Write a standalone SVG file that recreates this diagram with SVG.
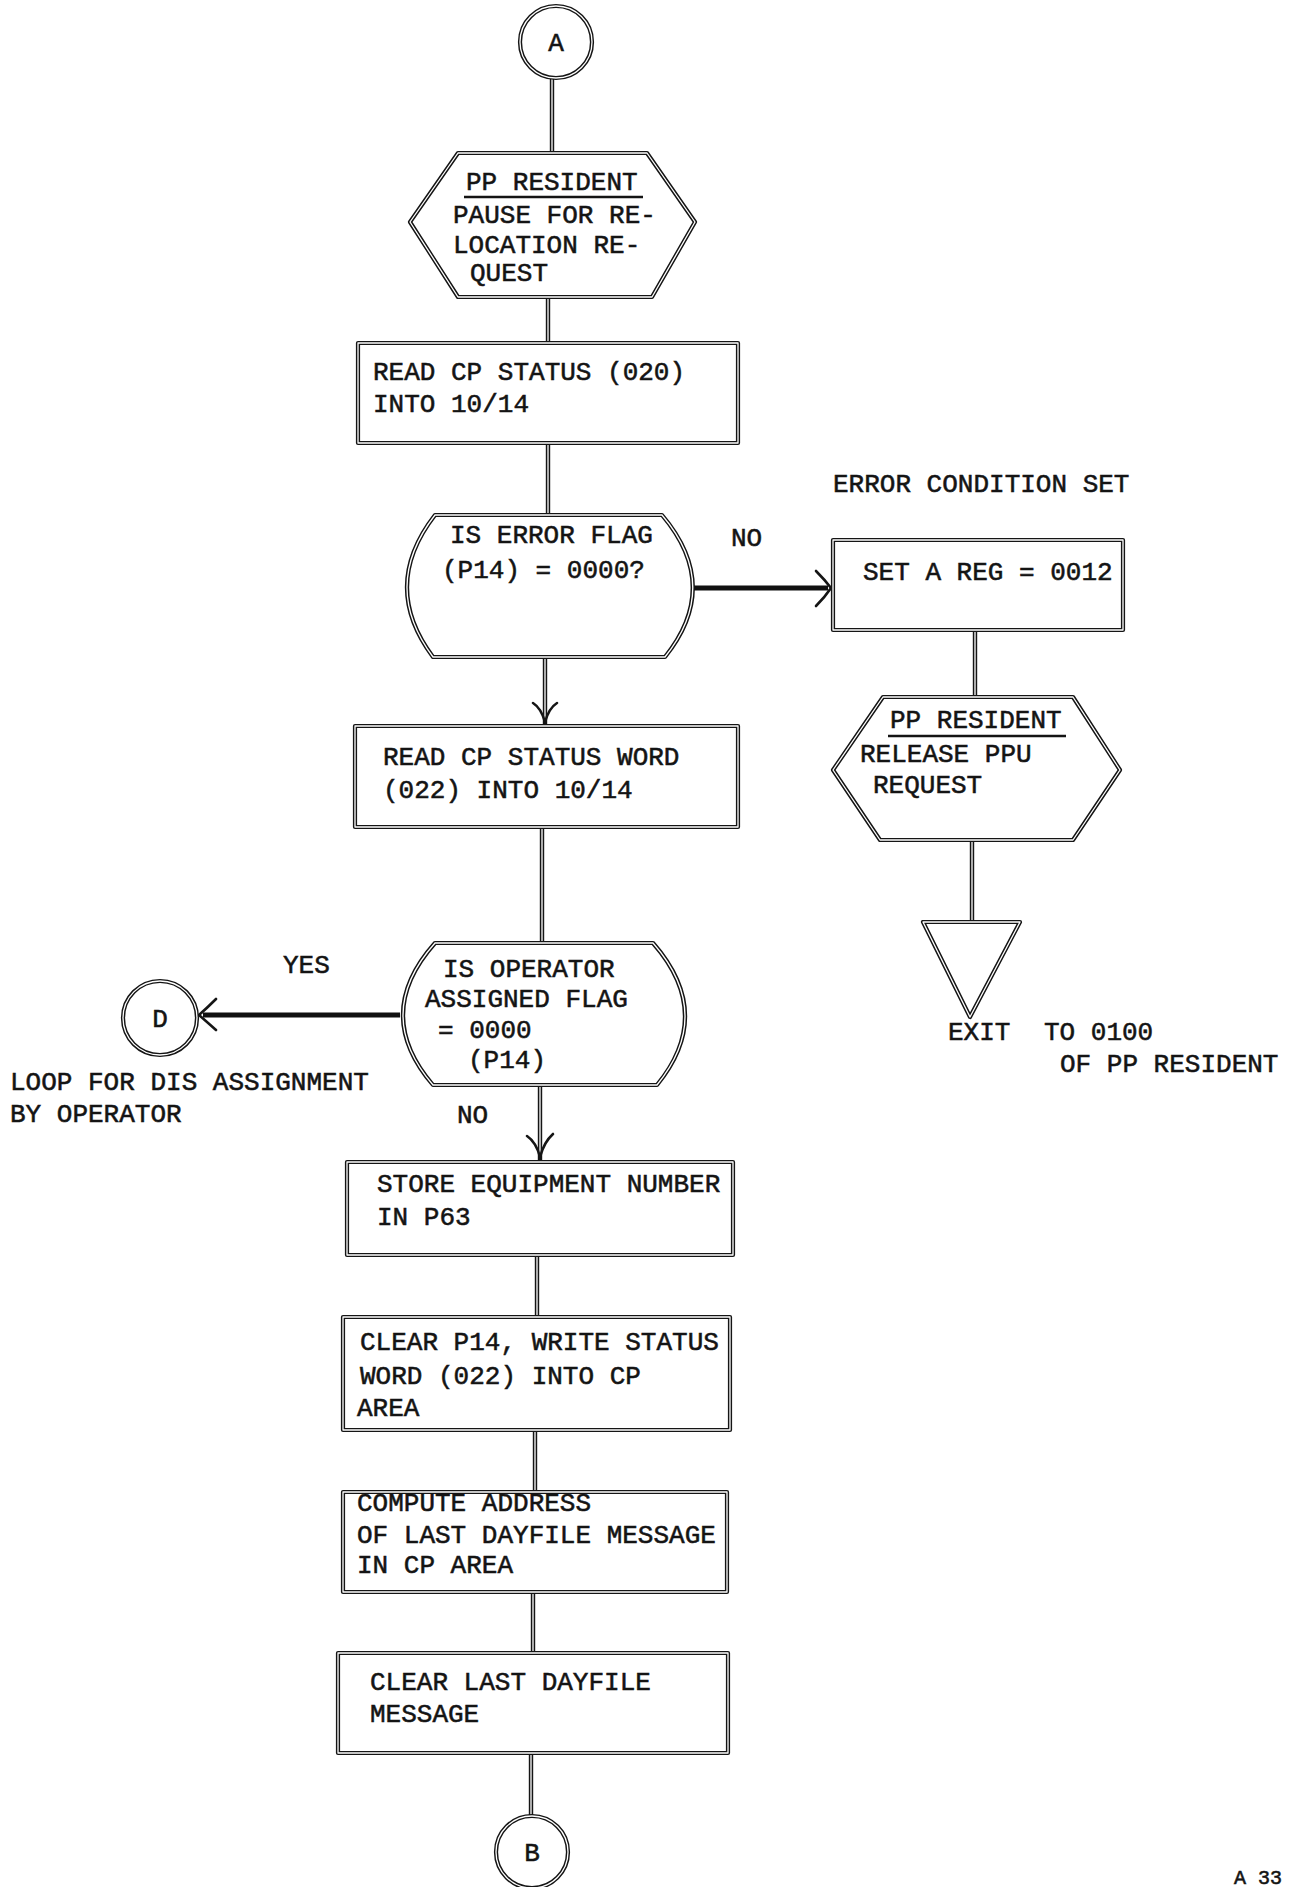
<svg xmlns="http://www.w3.org/2000/svg" xmlns:xlink="http://www.w3.org/1999/xlink" width="1300" height="1887" viewBox="0 0 1300 1887">
<style>
.bg{fill:#ffffff}
.sh{fill:none;stroke:#151515;stroke-width:4.2;stroke-linejoin:round}
.shi{fill:none;stroke:#ffffff;stroke-width:1.3;stroke-linejoin:round}
.c{fill:none;stroke:#151515;stroke-width:4.4}
.ci{fill:none;stroke:#ffffff;stroke-width:1.3}
.h{fill:none;stroke:#111111;stroke-width:5}
.ah{fill:none;stroke:#151515;stroke-width:2.6;stroke-linecap:round;stroke-linejoin:round}
.t{font-family:"Liberation Mono","Courier New",monospace;font-size:26px;fill:#141414;stroke:#141414;stroke-width:0.55}
.tm{text-anchor:middle}
.ul{stroke:#141414;stroke-width:2.4}
</style>
<defs>
<circle id="cA" cx="556" cy="42" r="36"/>
<polygon id="hx1" points="458,153 647,153 695,222 652,297 458,297 410,222"/>
<rect id="r1" x="358" y="343" width="380" height="100"/>
<path id="d1" d="M435,515 L662,515 Q722,586 665,657 L433,657 Q380,586 435,515 Z"/>
<rect id="r2" x="833" y="540" width="290" height="90"/>
<polygon id="hx2" points="883,697 1073,697 1120,770 1073,840 880,840 833,770"/>
<polygon id="tri" points="923,922 1020,922 970,1017"/>
<rect id="r3" x="355" y="726" width="383" height="101"/>
<path id="d2" d="M435,943 L653,943 Q715,1014 657,1085 L433,1085 Q372,1014 435,943 Z"/>
<circle id="cD" cx="160" cy="1018" r="37"/>
<rect id="r4" x="347" y="1162" width="386" height="93"/>
<rect id="r5" x="343" y="1317" width="387" height="113"/>
<rect id="r6" x="343" y="1492" width="384" height="100"/>
<rect id="r7" x="338" y="1653" width="390" height="100"/>
<circle id="cB" cx="532" cy="1852" r="36"/>
</defs>
<rect class="bg" x="0" y="0" width="1300" height="1887"/>

<g id="connectors">
<path class="c" d="M552,78 V153"/><path class="ci" d="M552,78 V153"/>
<path class="c" d="M548,297 V343"/><path class="ci" d="M548,297 V343"/>
<path class="c" d="M548,443 V515"/><path class="ci" d="M548,443 V515"/>
<path class="c" d="M545,657 V724"/><path class="ci" d="M545,657 V720"/>
<path class="ah" d="M533,703 Q541,708 545,722 Q549,708 557,703"/>
<path class="c" d="M542,827 V943"/><path class="ci" d="M542,827 V943"/>
<path class="c" d="M540,1085 V1160"/><path class="ci" d="M540,1085 V1156"/>
<path class="ah" d="M527,1136 Q536,1142 540,1157 Q544,1142 553,1134"/>
<path class="c" d="M537,1255 V1317"/><path class="ci" d="M537,1255 V1317"/>
<path class="c" d="M535,1430 V1492"/><path class="ci" d="M535,1430 V1492"/>
<path class="c" d="M533,1592 V1653"/><path class="ci" d="M533,1592 V1653"/>
<path class="c" d="M531,1753 V1816"/><path class="ci" d="M531,1753 V1816"/>
<path class="h" d="M693,588 H828"/>
<path class="ah" d="M816,571 Q825,580 831,588 Q825,597 816,606"/>
<path class="h" d="M400,1015 H203"/>
<path class="ah" d="M216,999 Q207,1008 199,1015 Q207,1022 216,1030"/>
<path class="c" d="M975,630 V697"/><path class="ci" d="M975,630 V697"/>
<path class="c" d="M972,840 V922"/><path class="ci" d="M972,840 V922"/>
</g>

<g id="nodeA">
<use xlink:href="#cA" class="sh"/><use xlink:href="#cA" class="shi"/>
<text class="t tm" x="556" y="51">A</text>
</g>

<g id="hex1">
<use xlink:href="#hx1" class="sh"/><use xlink:href="#hx1" class="shi"/>
<text class="t" x="466" y="190">PP RESIDENT</text>
<line class="ul" x1="464" y1="197" x2="643" y2="197"/>
<text class="t" x="453" y="223">PAUSE FOR RE-</text>
<text class="t" x="453" y="253">LOCATION RE-</text>
<text class="t" x="470" y="281">QUEST</text>
</g>

<g id="rect1">
<use xlink:href="#r1" class="sh"/><use xlink:href="#r1" class="shi"/>
<text class="t" x="373" y="380">READ CP STATUS (020)</text>
<text class="t" x="373" y="412">INTO 10/14</text>
</g>

<g id="dec1">
<use xlink:href="#d1" class="sh"/><use xlink:href="#d1" class="shi"/>
<text class="t" x="450" y="543">IS ERROR FLAG</text>
<text class="t" x="442" y="578">(P14) = 0000?</text>
</g>

<g id="labelNo1"><text class="t" x="731" y="546">NO</text></g>
<g id="labelErr"><text class="t" x="833" y="492">ERROR CONDITION SET</text></g>

<g id="rect2">
<use xlink:href="#r2" class="sh"/><use xlink:href="#r2" class="shi"/>
<text class="t" x="863" y="580">SET A REG = 0012</text>
</g>

<g id="hex2">
<use xlink:href="#hx2" class="sh"/><use xlink:href="#hx2" class="shi"/>
<text class="t" x="890" y="728">PP RESIDENT</text>
<line class="ul" x1="888" y1="736" x2="1066" y2="736"/>
<text class="t" x="860" y="762">RELEASE PPU</text>
<text class="t" x="873" y="793">REQUEST</text>
</g>

<g id="exit">
<use xlink:href="#tri" class="sh"/><use xlink:href="#tri" class="shi"/>
<text class="t" x="948" y="1040">EXIT</text>
<text class="t" x="1044" y="1040">TO 0100</text>
<text class="t" x="1060" y="1072">OF PP RESIDENT</text>
</g>

<g id="rect3">
<use xlink:href="#r3" class="sh"/><use xlink:href="#r3" class="shi"/>
<text class="t" x="383" y="765">READ CP STATUS WORD</text>
<text class="t" x="383" y="798">(022) INTO 10/14</text>
</g>

<g id="dec2">
<use xlink:href="#d2" class="sh"/><use xlink:href="#d2" class="shi"/>
<text class="t" x="443" y="977">IS OPERATOR</text>
<text class="t" x="425" y="1007">ASSIGNED FLAG</text>
<text class="t" x="438" y="1038">= 0000</text>
<text class="t" x="468" y="1068">(P14)</text>
</g>

<g id="labelYes"><text class="t" x="283" y="973">YES</text></g>
<g id="labelNo2"><text class="t" x="457" y="1123">NO</text></g>

<g id="nodeD">
<use xlink:href="#cD" class="sh"/><use xlink:href="#cD" class="shi"/>
<text class="t tm" x="160" y="1027">D</text>
<text class="t" x="10" y="1090">LOOP FOR DIS ASSIGNMENT</text>
<text class="t" x="10" y="1122">BY OPERATOR</text>
</g>

<g id="rect4">
<use xlink:href="#r4" class="sh"/><use xlink:href="#r4" class="shi"/>
<text class="t" x="377" y="1192">STORE EQUIPMENT NUMBER</text>
<text class="t" x="377" y="1225">IN P63</text>
</g>

<g id="rect5">
<use xlink:href="#r5" class="sh"/><use xlink:href="#r5" class="shi"/>
<text class="t" x="360" y="1350">CLEAR P14, WRITE STATUS</text>
<text class="t" x="360" y="1384">WORD (022) INTO CP</text>
<text class="t" x="357" y="1416">AREA</text>
</g>

<g id="rect6">
<use xlink:href="#r6" class="sh"/><use xlink:href="#r6" class="shi"/>
<text class="t" x="357" y="1511">COMPUTE ADDRESS</text>
<text class="t" x="357" y="1543">OF LAST DAYFILE MESSAGE</text>
<text class="t" x="357" y="1573">IN CP AREA</text>
</g>

<g id="rect7">
<use xlink:href="#r7" class="sh"/><use xlink:href="#r7" class="shi"/>
<text class="t" x="370" y="1690">CLEAR LAST DAYFILE</text>
<text class="t" x="370" y="1722">MESSAGE</text>
</g>

<g id="nodeB">
<use xlink:href="#cB" class="sh"/><use xlink:href="#cB" class="shi"/>
<text class="t tm" x="532" y="1861">B</text>
</g>

<g id="pageNo"><text class="t" x="1234" y="1884" style="font-size:20px">A 33</text></g>
</svg>
